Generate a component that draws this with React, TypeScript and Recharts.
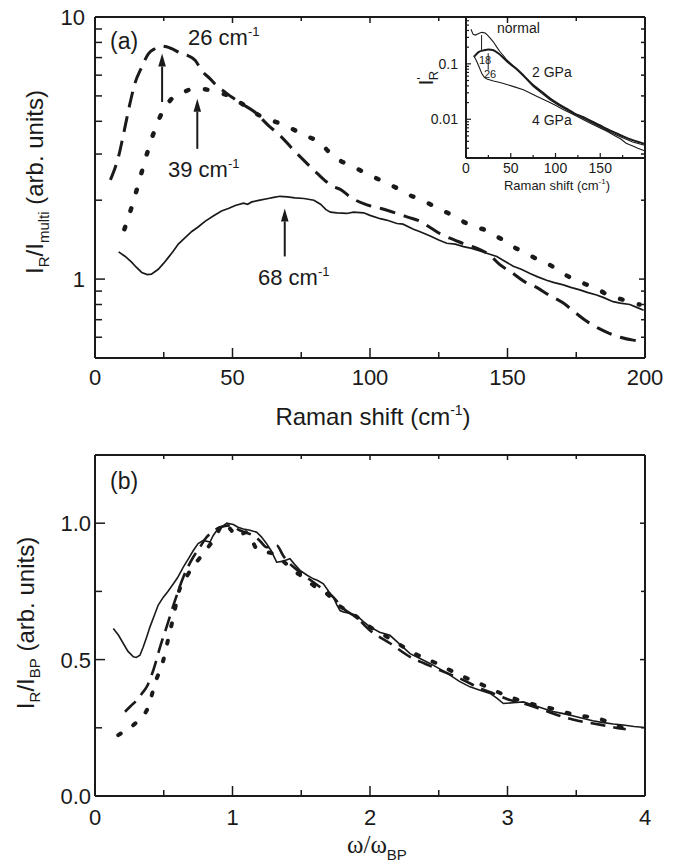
import React from 'react';
import { LineChart, Line, XAxis, YAxis, ReferenceLine } from 'recharts';

const SANS = '"Liberation Sans", Arial, Helvetica, sans-serif';
const SERIF = '"Liberation Serif", "Times New Roman", serif';
const INK = '#1a1a1a';

// ---------- Panel (a): I_R / I_multi vs Raman shift ----------
const aSolidX = [8.6, 11, 13.3, 15, 17, 19, 20.5, 23, 25, 26.7, 28.5, 30.3, 32.5, 35.2, 37.5, 40, 43, 46, 48.5, 51, 54, 55.5, 57, 60, 63, 65, 67.3, 70, 72.7, 76, 79.6, 82, 84, 85.6, 88, 91.6, 94, 97.7, 100, 103.7, 106, 109.8, 112, 115.8, 118, 121.9, 125, 127.9, 131, 134, 137, 140, 143, 146.1, 149, 152.1, 155, 158.2, 161, 164.2, 167, 170.3, 173, 176.3, 179, 182.4, 185, 188.4, 191, 194.5, 197, 199.5];
const aSolidY = [1.27, 1.22, 1.16, 1.11, 1.06, 1.04, 1.045, 1.09, 1.15, 1.21, 1.28, 1.36, 1.43, 1.52, 1.58, 1.66, 1.74, 1.82, 1.86, 1.91, 1.95, 1.93, 1.97, 2.0, 2.03, 2.05, 2.07, 2.06, 2.04, 2.03, 2.0, 1.93, 1.84, 1.8, 1.79, 1.78, 1.8, 1.79, 1.75, 1.7, 1.68, 1.63, 1.62, 1.55, 1.52, 1.46, 1.41, 1.37, 1.36, 1.33, 1.31, 1.28, 1.25, 1.22, 1.17, 1.12, 1.09, 1.05, 1.02, 0.99, 0.97, 0.95, 0.93, 0.91, 0.89, 0.87, 0.85, 0.82, 0.81, 0.8, 0.78, 0.76];

const aDashX = [5.6, 8.5, 10.9, 12.7, 14.5, 17, 19.4, 21.8, 24.2, 26, 27.9, 31.5, 34, 36.4, 38.8, 41.8, 44.8, 47, 49.7, 53.3, 58.2, 63, 67.3, 72.3, 76.5, 80.8, 86.8, 89.2, 93, 98.9, 104, 109.8, 114, 118.3, 122, 125.5, 130, 135.2, 139, 143.7, 147, 151.5, 156, 160.6, 165, 170.3, 175, 178.8, 183, 187.2, 191, 195.7, 199];
const aDashY = [2.39, 2.92, 3.8, 4.67, 5.57, 6.44, 7.24, 7.57, 7.75, 7.7, 7.57, 7.24, 7.1, 6.84, 6.25, 5.82, 5.41, 5.2, 4.95, 4.67, 4.33, 3.86, 3.53, 3.1, 2.8, 2.53, 2.25, 2.2, 2.05, 1.92, 1.86, 1.78, 1.72, 1.66, 1.57, 1.49, 1.42, 1.35, 1.31, 1.23, 1.14, 1.06, 0.98, 0.93, 0.87, 0.81, 0.74, 0.69, 0.65, 0.62, 0.6, 0.585, 0.58];

const aDotX = [10.7, 13.3, 15.8, 18.2, 20.6, 23.6, 26, 28.5, 32, 35.2, 37.6, 40, 42.4, 45, 49.7, 53, 57, 60, 64.2, 68, 71.5, 76, 82, 86.8, 90, 94, 98, 102.5, 107, 111, 114, 117.6, 121, 124.9, 130, 135.2, 138, 141.8, 145, 148.5, 151.5, 155, 158.2, 161, 164.2, 168, 170.9, 175.1, 178, 181.2, 184, 187.2, 191, 194.5, 198];
const aDotY = [1.55, 1.88, 2.31, 2.84, 3.43, 4.15, 4.6, 4.95, 5.15, 5.32, 5.36, 5.3, 5.25, 5.15, 4.95, 4.7, 4.4, 4.2, 4.03, 3.9, 3.75, 3.55, 3.3, 2.93, 2.8, 2.68, 2.55, 2.42, 2.3, 2.19, 2.1, 2.03, 1.95, 1.86, 1.75, 1.63, 1.58, 1.54, 1.47, 1.41, 1.34, 1.28, 1.23, 1.19, 1.15, 1.09, 1.04, 0.99, 0.96, 0.93, 0.9, 0.86, 0.84, 0.82, 0.8];

const aXTicks = [0, 25, 50, 75, 100, 125, 150, 175, 200];
const aXMajor = [0, 50, 100, 150, 200];
const aYTicks = [0.6, 0.7, 0.8, 0.9, 1, 2, 3, 4, 5, 6, 7, 8, 9, 10];
const aYMajor = [1, 10];

// arrows in panel (a): [x, yStart, yEnd]
const aArrows = [
  [24.4, 4.74, 7.25],
  [37.2, 3.14, 4.88],
  [69, 1.22, 1.86],
];

// ---------- Inset: I'_R vs Raman shift ----------
const inNormalX = [5.5, 8, 10.5, 13, 15.5, 17.8, 21.5, 24, 27, 30.5, 34.4, 38, 41.9, 45, 49.3, 56.7, 65, 75.2, 85, 93.7, 103, 112.2, 121, 130.7, 140, 149.3, 158, 167.8, 177, 186.3, 199.5];
const inNormalY = [0.42, 0.34, 0.33, 0.345, 0.36, 0.37, 0.36, 0.33, 0.29, 0.25, 0.2, 0.165, 0.14, 0.12, 0.104, 0.079, 0.058, 0.039, 0.029, 0.0225, 0.018, 0.0148, 0.0124, 0.0104, 0.0087, 0.0073, 0.0062, 0.0052, 0.0045, 0.0039, 0.0034];
const in2GX = [9.2, 14, 19.6, 25.2, 30.7, 36, 41.9, 49, 56.7, 65, 75.2, 85, 93.7, 103, 112.2, 121, 130.7, 140, 149.3, 158, 167.8, 177, 186.3, 199.5];
const in2GY = [0.135, 0.163, 0.175, 0.182, 0.176, 0.155, 0.128, 0.1, 0.081, 0.06, 0.041, 0.031, 0.024, 0.019, 0.0155, 0.0128, 0.011, 0.0092, 0.0078, 0.0066, 0.0056, 0.0048, 0.0042, 0.0036];
const in4GX = [8.5, 11, 14, 17.8, 20.5, 23.3, 30.7, 38, 45.6, 55, 64.1, 71, 78.9, 86, 93.7, 101, 108.5, 120, 130.7, 140, 149.3, 158, 167.8, 173, 178.9, 186.3, 192, 199.5];
const in4GY = [0.14, 0.12, 0.093, 0.066, 0.057, 0.053, 0.049, 0.046, 0.0425, 0.038, 0.034, 0.03, 0.026, 0.023, 0.02, 0.0175, 0.015, 0.0122, 0.0099, 0.0083, 0.007, 0.006, 0.0049, 0.0044, 0.0037, 0.0033, 0.003, 0.0027];
const inXTicks = [0, 25, 50, 75, 100, 125, 150, 175];
const inXMajor = [0, 50, 100, 150];
const inYTicks = [0.002, 0.003, 0.004, 0.005, 0.006, 0.007, 0.008, 0.009, 0.01, 0.02, 0.03, 0.04, 0.05, 0.06, 0.07, 0.08, 0.09, 0.1, 0.2, 0.3, 0.4, 0.5, 0.6];
const inYMajor = [0.01, 0.1];
// marker lines: [x, yStart, yEnd]
const inMarks = [
  [17.4, 0.33, 0.17],
  [24.8, 0.155, 0.078],
];

// ---------- Panel (b): I_R / I_BP vs omega/omega_BP ----------
const bSolidX = [0.133, 0.17, 0.206, 0.24, 0.279, 0.3, 0.327, 0.35, 0.376, 0.4, 0.436, 0.46, 0.497, 0.53, 0.57, 0.6, 0.642, 0.68, 0.715, 0.75, 0.788, 0.836, 0.86, 0.885, 0.92, 0.958, 0.98, 1.006, 1.04, 1.079, 1.12, 1.176, 1.21, 1.248, 1.28, 1.321, 1.36, 1.418, 1.45, 1.491, 1.54, 1.588, 1.62, 1.661, 1.7, 1.733, 1.76, 1.782, 1.806, 1.85, 1.903, 1.95, 2.0, 2.07, 2.145, 2.22, 2.291, 2.36, 2.436, 2.51, 2.582, 2.65, 2.727, 2.8, 2.873, 2.92, 2.97, 3.04, 3.115, 3.19, 3.261, 3.33, 3.406, 3.48, 3.552, 3.62, 3.697, 3.77, 3.842, 3.92, 4.0];
const bSolidY = [0.614, 0.59, 0.559, 0.53, 0.51, 0.508, 0.516, 0.545, 0.583, 0.62, 0.668, 0.7, 0.729, 0.75, 0.778, 0.8, 0.839, 0.87, 0.9, 0.925, 0.937, 0.931, 0.955, 0.973, 0.985, 1.0, 0.998, 0.995, 0.985, 0.979, 0.975, 0.967, 0.95, 0.925, 0.9, 0.857, 0.86, 0.87, 0.85, 0.827, 0.81, 0.796, 0.79, 0.778, 0.75, 0.729, 0.7, 0.68, 0.675, 0.67, 0.662, 0.64, 0.62, 0.6, 0.589, 0.555, 0.522, 0.505, 0.486, 0.465, 0.443, 0.42, 0.4, 0.388, 0.376, 0.36, 0.339, 0.342, 0.345, 0.333, 0.321, 0.31, 0.302, 0.293, 0.284, 0.276, 0.269, 0.264, 0.26, 0.255, 0.251];

const bDashX = [0.218, 0.26, 0.303, 0.34, 0.376, 0.424, 0.473, 0.521, 0.582, 0.642, 0.715, 0.76, 0.812, 0.86, 0.909, 0.982, 1.055, 1.1, 1.152, 1.2, 1.248, 1.321, 1.37, 1.418, 1.48, 1.539, 1.636, 1.733, 1.8, 1.9, 2.0, 2.145, 2.291, 2.4, 2.51, 2.679, 2.8, 2.897, 3.0, 3.115, 3.26, 3.406, 3.52, 3.624, 3.72, 3.818, 3.86];
const bDashY = [0.309, 0.33, 0.351, 0.375, 0.4, 0.461, 0.546, 0.62, 0.717, 0.802, 0.876, 0.91, 0.949, 0.97, 0.985, 0.992, 0.973, 0.965, 0.955, 0.935, 0.912, 0.918, 0.88, 0.851, 0.825, 0.802, 0.766, 0.729, 0.69, 0.655, 0.607, 0.56, 0.51, 0.485, 0.461, 0.425, 0.395, 0.376, 0.355, 0.339, 0.315, 0.29, 0.275, 0.266, 0.257, 0.248, 0.245];

const bDotX = [0.169, 0.22, 0.279, 0.33, 0.388, 0.436, 0.497, 0.533, 0.57, 0.606, 0.679, 0.776, 0.86, 0.945, 0.99, 1.03, 1.103, 1.14, 1.176, 1.24, 1.297, 1.37, 1.442, 1.52, 1.588, 1.685, 1.77, 1.855, 2.0, 2.145, 2.327, 2.485, 2.655, 2.824, 2.982, 3.164, 3.321, 3.503, 3.661, 3.75, 3.818, 3.86];
const bDotY = [0.223, 0.24, 0.26, 0.285, 0.327, 0.412, 0.498, 0.577, 0.656, 0.742, 0.815, 0.882, 0.937, 1.0, 0.975, 0.951, 0.967, 0.94, 0.906, 0.895, 0.888, 0.86, 0.827, 0.8, 0.772, 0.742, 0.7, 0.674, 0.62, 0.577, 0.522, 0.486, 0.443, 0.406, 0.37, 0.339, 0.321, 0.296, 0.284, 0.268, 0.254, 0.25];

const bXTicks = [0, 0.5, 1, 1.5, 2, 2.5, 3, 3.5, 4];
const bXMajor = [0, 1, 2, 3, 4];
const bYTicks = [0, 0.25, 0.5, 0.75, 1.0];
const bYMajor = [0, 0.5, 1.0];

// ---------- helpers ----------
const zip = (xs: number[], ys: number[]) => xs.map((x, i) => ({ x, y: ys[i] }));

type Side = 'bottom' | 'top' | 'left' | 'right';
function makeTick(side: Side, majors: number[], fmt: ((v: number) => string | null) | null, majorLen: number, minorLen: number, fontSize: number, offset: number, sw = 1.5) {
  return function Tick(props: any) {
    const { x, y, payload } = props;
    const v = payload.value;
    const isMajor = majors.some((m) => Math.abs(m - v) < 1e-9);
    const L = isMajor ? majorLen : minorLen;
    let x2 = x;
    let y2 = y;
    if (side === 'bottom') y2 = y - L;
    else if (side === 'top') y2 = y + L;
    else if (side === 'left') x2 = x + L;
    else x2 = x - L;
    const label = isMajor && fmt ? fmt(v) : null;
    let text: React.ReactNode = null;
    if (label !== null) {
      if (side === 'bottom') {
        text = (
          <text x={x} y={y + offset} textAnchor="middle" fontSize={fontSize} fontFamily={SANS} fill={INK}>
            {label}
          </text>
        );
      } else if (side === 'left') {
        text = (
          <text x={x - offset} y={y + fontSize * 0.36} textAnchor="end" fontSize={fontSize} fontFamily={SANS} fill={INK}>
            {label}
          </text>
        );
      }
    }
    return (
      <g>
        <line x1={x} y1={y} x2={x2} y2={y2} stroke={INK} strokeWidth={sw} />
        {text}
      </g>
    );
  };
}

const Arrow = (p: any) => {
  const { x1, y1, x2, y2 } = p;
  const dx = x2 - x1;
  const dy = y2 - y1;
  const len = Math.hypot(dx, dy) || 1;
  const ux = dx / len;
  const uy = dy / len;
  const hl = 13;
  const hw = 3.8;
  const bx = x2 - ux * hl;
  const by = y2 - uy * hl;
  const px = -uy;
  const py = ux;
  return (
    <g>
      <line x1={x1} y1={y1} x2={bx} y2={by} stroke={INK} strokeWidth={2} />
      <polygon points={`${x2},${y2} ${bx + px * hw},${by + py * hw} ${bx - px * hw},${by - py * hw}`} fill={INK} />
    </g>
  );
};

const AX = { stroke: INK, strokeWidth: 2 };
const fmtInt = (v: number) => String(v);

export default function App() {
  const aSolid = zip(aSolidX, aSolidY);
  const aDash = zip(aDashX, aDashY);
  const aDot = zip(aDotX, aDotY);
  const inNormal = zip(inNormalX, inNormalY);
  const in2G = zip(in2GX, in2GY);
  const in4G = zip(in4GX, in4GY);
  const bSolid = zip(bSolidX, bSolidY);
  const bDash = zip(bDashX, bDashY);
  const bDot = zip(bDotX, bDotY);

  return (
    <div style={{ position: 'absolute', left: 0, top: 0, width: 675, height: 868, background: '#fff', fontFamily: SANS }}>
      {/* Panel (a) */}
      <div style={{ position: 'absolute', left: 0, top: 0 }}>
        <LineChart width={675} height={440} margin={{ top: 7, right: 20, bottom: 52, left: 35 }}>
          <XAxis xAxisId="b" type="number" dataKey="x" domain={[0, 200]} allowDataOverflow ticks={aXTicks} interval={0}
            tickSize={0} tickMargin={0} height={30} axisLine={AX} tickLine={false}
            tick={makeTick('bottom', aXMajor, fmtInt, 10, 6, 22, 27)} />
          <XAxis xAxisId="t" orientation="top" type="number" dataKey="x" domain={[0, 200]} allowDataOverflow ticks={aXTicks} interval={0}
            tickSize={0} tickMargin={0} height={10} axisLine={AX} tickLine={false}
            tick={makeTick('top', aXMajor, null, 6, 4, 22, 0)} />
          <YAxis yAxisId="l" type="number" scale="log" domain={[0.5, 10]} allowDataOverflow ticks={aYTicks} interval={0}
            tickSize={0} tickMargin={0} width={60} axisLine={AX} tickLine={false}
            tick={makeTick('left', aYMajor, fmtInt, 10, 7, 22, 10)} />
          <YAxis yAxisId="r" orientation="right" type="number" scale="log" domain={[0.5, 10]} allowDataOverflow ticks={aYTicks} interval={0}
            tickSize={0} tickMargin={0} width={10} axisLine={AX} tickLine={false}
            tick={makeTick('right', aYMajor, null, 6, 4, 22, 0)} />
          <Line xAxisId="b" yAxisId="l" data={aSolid} dataKey="y" type="linear" dot={false} stroke={INK} strokeWidth={1.7} isAnimationActive={false} />
          <Line xAxisId="b" yAxisId="l" data={aDash} dataKey="y" type="monotone" dot={false} stroke={INK} strokeWidth={3} strokeDasharray="16 9" isAnimationActive={false} />
          <Line xAxisId="b" yAxisId="l" data={aDot} dataKey="y" type="monotone" dot={false} stroke={INK} strokeWidth={4.5} strokeDasharray="2.5 17" strokeLinecap="round" isAnimationActive={false} />
          {aArrows.map((a, i) => (
            <ReferenceLine key={i} xAxisId="b" yAxisId="l" ifOverflow="visible"
              segment={[{ x: a[0], y: a[1] }, { x: a[0], y: a[2] }]} shape={Arrow} />
          ))}
        </LineChart>
      </div>

      {/* Inset */}
      <div style={{ position: 'absolute', left: 400, top: 0 }}>
        <LineChart width={275} height={200} margin={{ top: 17, right: 30, bottom: 22, left: 26 }}>
          <XAxis xAxisId="b" type="number" dataKey="x" domain={[0, 200]} allowDataOverflow ticks={inXTicks} interval={0}
            tickSize={0} tickMargin={0} height={20} axisLine={AX} tickLine={false}
            tick={makeTick('bottom', inXMajor, fmtInt, 5, 3, 14, 15, 1.2)} />
          <YAxis yAxisId="l" type="number" scale="log" domain={[0.002, 0.7]} allowDataOverflow ticks={inYTicks} interval={0}
            tickSize={0} tickMargin={0} width={40} axisLine={AX} tickLine={false}
            tick={makeTick('left', inYMajor, (v) => (v === 0.1 ? '0.1' : '0.01'), 5, 3, 14, 8, 1.2)} />
          <Line xAxisId="b" yAxisId="l" data={inNormal} dataKey="y" type="linear" dot={false} stroke={INK} strokeWidth={1.1} isAnimationActive={false} />
          <Line xAxisId="b" yAxisId="l" data={in2G} dataKey="y" type="monotone" dot={false} stroke={INK} strokeWidth={2} isAnimationActive={false} />
          <Line xAxisId="b" yAxisId="l" data={in4G} dataKey="y" type="linear" dot={false} stroke={INK} strokeWidth={1.1} isAnimationActive={false} />
          {inMarks.map((m, i) => (
            <ReferenceLine key={i} xAxisId="b" yAxisId="l" ifOverflow="visible"
              segment={[{ x: m[0], y: m[1] }, { x: m[0], y: m[2] }]} stroke={INK} strokeWidth={1} />
          ))}
        </LineChart>
      </div>

      {/* Panel (b) */}
      <div style={{ position: 'absolute', left: 0, top: 440 }}>
        <LineChart width={675} height={428} margin={{ top: 5, right: 20, bottom: 42, left: 35 }}>
          <XAxis xAxisId="b" type="number" dataKey="x" domain={[0, 4]} allowDataOverflow ticks={bXTicks} interval={0}
            tickSize={0} tickMargin={0} height={30} axisLine={AX} tickLine={false}
            tick={makeTick('bottom', bXMajor, fmtInt, 10, 6, 22, 29)} />
          <XAxis xAxisId="t" orientation="top" type="number" dataKey="x" domain={[0, 4]} allowDataOverflow ticks={bXTicks} interval={0}
            tickSize={0} tickMargin={0} height={10} axisLine={AX} tickLine={false}
            tick={makeTick('top', bXMajor, null, 5, 4, 22, 0)} />
          <YAxis yAxisId="l" type="number" domain={[0, 1.25]} allowDataOverflow ticks={bYTicks} interval={0}
            tickSize={0} tickMargin={0} width={60} axisLine={AX} tickLine={false}
            tick={makeTick('left', bYMajor, (v) => v.toFixed(1), 10, 7, 22, 4)} />
          <YAxis yAxisId="r" orientation="right" type="number" domain={[0, 1.25]} allowDataOverflow ticks={bYTicks} interval={0}
            tickSize={0} tickMargin={0} width={10} axisLine={AX} tickLine={false}
            tick={makeTick('right', bYMajor, null, 5, 4, 22, 0)} />
          <Line xAxisId="b" yAxisId="l" data={bSolid} dataKey="y" type="linear" dot={false} stroke={INK} strokeWidth={1.6} isAnimationActive={false} />
          <Line xAxisId="b" yAxisId="l" data={bDash} dataKey="y" type="monotone" dot={false} stroke={INK} strokeWidth={2.6} strokeDasharray="15 8" isAnimationActive={false} />
          <Line xAxisId="b" yAxisId="l" data={bDot} dataKey="y" type="monotone" dot={false} stroke={INK} strokeWidth={4} strokeDasharray="3 15" strokeLinecap="round" isAnimationActive={false} />
        </LineChart>
      </div>

      {/* Text overlay */}
      <svg width={675} height={868} style={{ position: 'absolute', left: 0, top: 0, pointerEvents: 'none' }} fontFamily={SANS} fill={INK}>
        {/* panel (a) */}
        <text x={110} y={49} fontSize={23}>(a)</text>
        <text x={188} y={45} fontSize={22}>26 cm<tspan dy={-9} fontSize={13}>-1</tspan></text>
        <text x={168} y={177} fontSize={22}>39 cm<tspan dy={-9} fontSize={13}>-1</tspan></text>
        <text x={258} y={285} fontSize={22}>68 cm<tspan dy={-9} fontSize={13}>-1</tspan></text>
        <text x={373} y={425} fontSize={24} textAnchor="middle">
          Raman shift (cm<tspan dy={-10} fontSize={14}>-1</tspan><tspan dy={10}>)</tspan>
        </text>
        <text transform="translate(43,182) rotate(-90)" fontSize={24} textAnchor="middle">
          I<tspan dy={6} fontSize={15}>R</tspan><tspan dy={-6}>/I</tspan><tspan dy={6} fontSize={15}>multi</tspan><tspan dy={-6}> (arb. units)</tspan>
        </text>

        {/* inset */}
        <text x={497} y={33} fontSize={14}>normal</text>
        <text x={532} y={77} fontSize={14}>2 GPa</text>
        <text x={532} y={125} fontSize={14}>4 GPa</text>
        <text x={479} y={64} fontSize={11}>18</text>
        <text x={484} y={78} fontSize={11}>26</text>
        <text x={557} y={190} fontSize={13} textAnchor="middle">
          Raman shift (cm<tspan dy={-6} fontSize={8}>-1</tspan><tspan dy={6}>)</tspan>
        </text>
        <text transform="translate(433,78) rotate(-90)" fontSize={20} textAnchor="middle">
          I<tspan dy={-7} fontSize={13}>'</tspan><tspan dx={-3} dy={12} fontSize={13}>R</tspan>
        </text>

        {/* panel (b) */}
        <text x={110} y={489} fontSize={23}>(b)</text>
        <text transform="translate(34,623) rotate(-90)" fontSize={24} textAnchor="middle">
          I<tspan dy={6} fontSize={15}>R</tspan><tspan dy={-6}>/I</tspan><tspan dy={6} fontSize={15}>BP</tspan><tspan dy={-6}> (arb. units)</tspan>
        </text>
        <text x={347} y={853} fontSize={25} fontFamily={SERIF}>
          ω/ω<tspan dy={7} fontSize={15} fontFamily={SANS}>BP</tspan>
        </text>
      </svg>
    </div>
  );
}
